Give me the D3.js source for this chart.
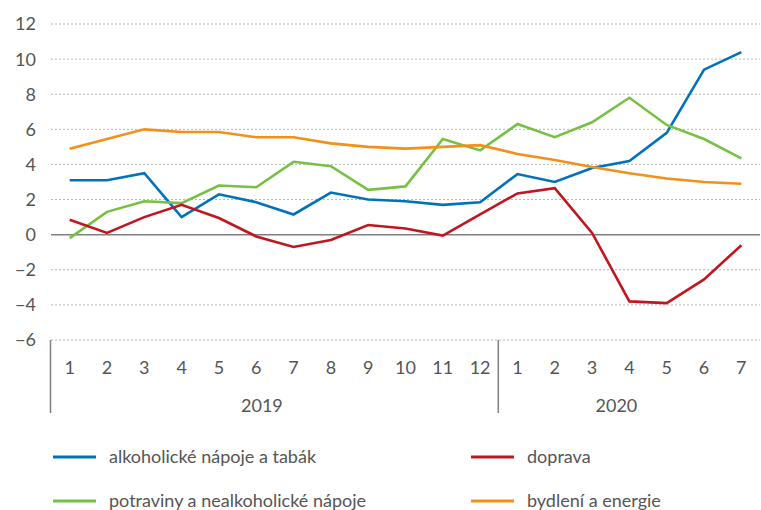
<!DOCTYPE html>
<html><head><meta charset="utf-8">
<script src="https://cdn.jsdelivr.net/npm/d3@7"></script>
<style>
html,body{margin:0;padding:0;background:#fff;}
text{font-family:Lato,"Open Sans",sans-serif;fill:#555;}
</style></head>
<body><svg id="c" width="761" height="510"></svg>
<script>
const months = ["1","2","3","4","5","6","7","8","9","10","11","12","1","2","3","4","5","6","7"];
const years = [{label:"2019", start:0, end:12},{label:"2020", start:12, end:19}];
const yTicks = [-6,-4,-2,0,2,4,6,8,10,12];
const alkohol = [3.1,3.1,3.5,1.0,2.3,1.85,1.15,2.4,2.0,1.9,1.7,1.85,3.45,3.0,3.8,4.2,5.8,9.4,10.4];
const potraviny = [-0.2,1.3,1.9,1.8,2.8,2.7,4.15,3.9,2.55,2.75,5.45,4.8,6.3,5.55,6.4,7.8,6.25,5.45,4.35];
const doprava = [0.85,0.1,1.0,1.7,0.95,-0.1,-0.7,-0.3,0.55,0.35,-0.05,1.15,2.35,2.65,0.1,-3.8,-3.9,-2.55,-0.6];
const bydleni = [4.9,5.45,6.0,5.85,5.85,5.55,5.55,5.2,5.0,4.9,5.0,5.1,4.6,4.25,3.85,3.5,3.2,3.0,2.9];
const seriesNames = ["alkoholické nápoje a tabák","potraviny a nealkoholické nápoje","doprava","bydlení a energie"];
const seriesColors = ["#0072bc","#78c043","#c1161f","#f39019"];
const seriesData = [alkohol, potraviny, doprava, bydleni];

(function(){
const svg = d3.select("#c");
const mLeft = 51, mRight = 760, mTop = 24, mBottom = 340;
const x = d3.scaleBand().domain(d3.range(months.length)).range([mLeft, mRight]);
const y = d3.scaleLinear().domain([-6, 12]).range([mBottom, mTop]);
const cx = i => x(i) + x.bandwidth()/2;

// gridlines
svg.append("g").selectAll("line").data(yTicks.filter(d=>d!==0)).join("line")
  .attr("x1", mLeft).attr("x2", mRight).attr("y1", d=>y(d)).attr("y2", d=>y(d))
  .attr("stroke", "#b5b5b5").attr("stroke-width", 1).attr("stroke-dasharray", "2,2");
svg.append("line").attr("x1", mLeft).attr("x2", mRight).attr("y1", y(0)).attr("y2", y(0))
  .attr("stroke", "#7f7f7f").attr("stroke-width", 1.5);

// y labels
svg.append("g").selectAll("text").data(yTicks).join("text")
  .attr("x", 36).attr("y", d=>y(d)).attr("dy","0.36em").attr("text-anchor","end")
  .attr("font-size", 18).text(d => d < 0 ? "\u2212" + Math.abs(d) : d);

// x labels
svg.append("g").selectAll("text").data(months).join("text")
  .attr("x", (d,i)=>cx(i)).attr("y", 368).attr("dy","0.36em").attr("text-anchor","middle")
  .attr("font-size", 18).text(d=>d);
svg.append("g").selectAll("text").data(years).join("text")
  .attr("x", d => (x(d.start) + x(d.end-1) + x.bandwidth())/2 - 13).attr("y", 406).attr("dy","0.36em")
  .attr("text-anchor","middle").attr("font-size", 18).text(d=>d.label);
// separators
svg.append("g").selectAll("line").data([0,12]).join("line")
  .attr("x1", d=>x(d)-0.5).attr("x2", d=>x(d)-0.5).attr("y1", mBottom).attr("y2", 413)
  .attr("stroke", "#7f7f7f").attr("stroke-width", 1.5);

// lines
const line = d3.line().x((d,i)=>cx(i)).y(d=>y(d));
seriesData.forEach((s, k) => {
  svg.append("path").attr("d", line(s)).attr("fill","none")
    .attr("stroke", seriesColors[k]).attr("stroke-width", 2.6).attr("stroke-linejoin","miter");
});

// legend
const legPos = [[53,457],[53,501],[471,457],[471,501]];
seriesNames.forEach((n,k) => {
  const [lx, ly] = legPos[k];
  svg.append("line").attr("x1", lx).attr("x2", lx+43).attr("y1", ly).attr("y2", ly)
    .attr("stroke", seriesColors[k]).attr("stroke-width", 3);
  svg.append("text").attr("x", lx+56).attr("y", ly).attr("dy","0.36em").attr("font-size", 18).text(n);
});
})();
</script></body></html>
